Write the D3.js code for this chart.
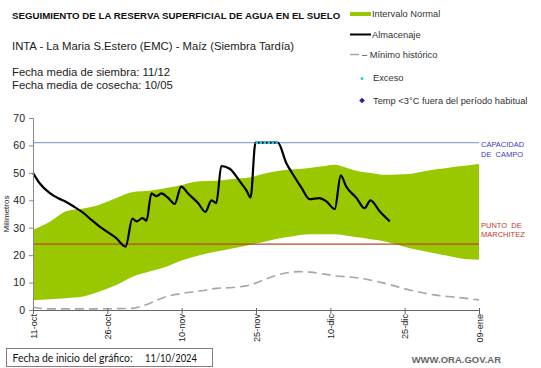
<!DOCTYPE html>
<html>
<head>
<meta charset="utf-8">
<script src="https://cdn.jsdelivr.net/npm/d3@7"></script>
<style>
body{margin:0;background:#fff;}
svg{display:block;font-family:"Liberation Sans",Arial,sans-serif;}
</style>
</head>
<body>
<script>
// datos (dia desde 11-oct, mm)
var bandDays  = [0,3.4,6.7,10.1,13.4,16.8,20.2,23.5,26.9,30.3,33.6,37,40.4,43.7,47,49.8,52.8,55.8,58.4,60.9,63.4,65.9,68.5,71,73.5,76,78.5,81,83.6,86.1,88,90];
var bandUpper = [29.2,32.2,36,37,38.4,40.8,43,43.5,44.5,45.7,46.9,47.1,47.8,48.3,49.9,50.8,51.3,51.8,52.4,53,51.8,50.5,49.9,49.3,49.4,49.6,50.4,51.2,51.8,52.4,52.8,53.2];
var bandLower = [3.6,3.9,4.3,4.9,6.7,9.1,12.2,14,15.8,18.2,20,21.3,22.5,23.7,25,26.2,27,27.6,27.6,27.6,27.1,26.4,25.7,25,23.8,22.5,21.6,20.7,19.8,18.9,18.5,18.3];

var minDays = [0,3.4,10,20.2,21.5,23.5,26.9,30.3,33.6,37,40.4,43.7,47,49.8,53.8,55.8,60.9,65.9,71,76,81,86.1,90];
var minVals = [1.0,0.4,0.4,0.6,1.2,2.4,4.9,6.1,6.9,7.9,8.2,9.1,11.3,13,14,13.8,12.5,11.6,9.7,7.3,5.5,4.5,3.7];

var storeDays = [0,1.3,3.4,5,6.7,8.4,10.1,11.7,13.4,15,16.8,18.7,20.05,20.9,22.1,22.9,23.9,24.9,25.9,27.2,28.6,29.9,31.3,33.3,34.8,36,37,38,39.7,41.7,43.1,43.9,44.9,46,47,48,49.4,51.1,52.5,54.2,55.8,57.8,59.2,60.9,62.1,63.2,65.3,66.9,68.1,70,72];
var storeVals = [50,46.3,42.6,40.8,39.4,37.5,35.5,33,30.5,28.5,26.2,23.1,33.3,32.3,33.5,32.6,42.5,41.5,42.5,41,38.7,45,42.5,39,35.8,40,39,52.5,51.5,47,43.5,41,61,61,61,61,61,53.6,49.3,44.5,40.4,40.8,39.6,36.8,49.1,45,40.8,37.1,40,35.9,32.3];

var excessDays = [44.9,46,47,48,49.4];
var excessVals = [61,61,61,61,61];

var fieldCapacity = 61;
var wiltingPoint = 24;

var tickDays = [0,15,30,45,60,75,90];
var tickLabels = ["11-oct","26-oct","10-nov","25-nov","10-dic","25-dic","09-ene"];
var yTicks = [0,10,20,30,40,50,60,70];

var W = 541, H = 368;
var svg = d3.select("body").append("svg").attr("width",W).attr("height",H);

var x = d3.scaleLinear().domain([0,90]).range([33,479]);
var y = d3.scaleLinear().domain([0,70]).range([310,118]);

// banda normal
var area = d3.area()
  .x(function(d,i){return x(bandDays[i]);})
  .y0(function(d,i){return y(bandLower[i]);})
  .y1(function(d,i){return y(bandUpper[i]);})
  .curve(d3.curveMonotoneX);
svg.append("path").datum(bandDays).attr("d",area).attr("fill","#99c800");

// lineas de referencia
svg.append("line").attr("x1",x(0)).attr("x2",x(90))
  .attr("y1",y(fieldCapacity)).attr("y2",y(fieldCapacity))
  .attr("stroke","#8fa8d0").attr("stroke-width",1.2);
svg.append("line").attr("x1",x(0)).attr("x2",x(90))
  .attr("y1",y(wiltingPoint)).attr("y2",y(wiltingPoint))
  .attr("stroke","#b8472e").attr("stroke-width",1.2);

// minimo historico
var minLine = d3.line()
  .x(function(d,i){return x(minDays[i]);})
  .y(function(d,i){return y(minVals[i]);})
  .curve(d3.curveMonotoneX);
svg.append("path").datum(minDays).attr("d",minLine)
  .attr("fill","none").attr("stroke","#a6a6a6").attr("stroke-width",1.6)
  .attr("stroke-dasharray","9,5");

// almacenaje
var storeLine = d3.line()
  .x(function(d,i){return x(storeDays[i]);})
  .y(function(d,i){return y(storeVals[i]);})
  .curve(d3.curveMonotoneX);
svg.append("path").datum(storeDays).attr("d",storeLine)
  .attr("fill","none").attr("stroke","#000").attr("stroke-width",2.2)
  .attr("stroke-linejoin","round");

// exceso
var exLine = d3.line()
  .x(function(d,i){return x(excessDays[i]);})
  .y(function(d,i){return y(excessVals[i]);});
svg.append("path").datum(excessDays).attr("d",exLine)
  .attr("fill","none").attr("stroke","#33c5e8").attr("stroke-width",2.6)
  .attr("stroke-dasharray","2.5,1.5");

// ejes
var yAxis = svg.append("g").attr("transform","translate(33,0)")
  .call(d3.axisLeft(y).tickValues(yTicks).tickSize(4).tickPadding(4));
yAxis.select(".domain").attr("stroke","#888");
yAxis.selectAll(".tick line").attr("stroke","#888");
yAxis.selectAll("text").attr("font-size","10.5px").attr("fill","#222")
  .attr("font-family","Liberation Sans, Arial, sans-serif");

var xAxis = svg.append("g").attr("transform","translate(0,310)")
  .call(d3.axisBottom(x).tickValues(tickDays).tickSize(4).tickSizeOuter(0)
    .tickFormat(function(d,i){return tickLabels[i];}));
xAxis.select(".domain").attr("stroke","#666").attr("stroke-width",1.2);
xAxis.selectAll(".tick line").attr("stroke","#666").attr("y1",-2);
xAxis.selectAll("text").attr("font-size","9.2px").attr("fill","#222")
  .attr("font-family","Liberation Sans, Arial, sans-serif")
  .attr("text-anchor","end").attr("dy","0.35em")
  .attr("transform","rotate(-90)").attr("x",-4).attr("y",0);

svg.append("text").attr("transform","translate(9,214) rotate(-90)")
  .attr("text-anchor","middle").attr("font-size","8px").attr("fill","#222")
  .text("Milímetros");

// etiquetas de lineas
var lab = svg.append("g").attr("font-size","7.5px");
lab.append("text").attr("x",481).attr("y",147).attr("fill","#3d3db8").text("CAPACIDAD");
lab.append("text").attr("x",481).attr("y",157).attr("fill","#3d3db8").attr("xml:space","preserve").text("DE  CAMPO");
lab.append("text").attr("x",481).attr("y",228).attr("fill","#c0392b").attr("xml:space","preserve").text("PUNTO  DE");
lab.append("text").attr("x",481).attr("y",236.5).attr("fill","#c0392b").text("MARCHITEZ");

// titulos
svg.append("text").attr("x",12).attr("y",19).attr("font-size","9.7px").attr("font-weight","bold")
  .attr("fill","#111").text("SEGUIMIENTO DE LA RESERVA SUPERFICIAL DE AGUA EN EL SUELO");
svg.append("text").attr("x",12).attr("y",50).attr("font-size","11.3px").attr("fill","#222")
  .text("INTA - La Maria S.Estero (EMC) - Maíz (Siembra Tardía)");
svg.append("text").attr("x",12).attr("y",76).attr("font-size","11.3px").attr("fill","#222")
  .text("Fecha media de siembra: 11/12");
svg.append("text").attr("x",12).attr("y",89).attr("font-size","11.3px").attr("fill","#222")
  .text("Fecha media de cosecha: 10/05");

// leyenda
var lg = svg.append("g").attr("font-size","9.3px").attr("fill","#333");
lg.append("rect").attr("x",350).attr("y",12).attr("width",21).attr("height",4).attr("fill","#99c800");
lg.append("text").attr("x",372).attr("y",17).text("Intervalo Normal");
lg.append("line").attr("x1",350).attr("x2",371).attr("y1",34.5).attr("y2",34.5)
  .attr("stroke","#000").attr("stroke-width",2);
lg.append("text").attr("x",372).attr("y",38).text("Almacenaje");
lg.append("line").attr("x1",350).attr("x2",359).attr("y1",54.5).attr("y2",54.5)
  .attr("stroke","#a6a6a6").attr("stroke-width",1.5);
lg.append("text").attr("x",362).attr("y",58).text("– Mínimo histórico");
lg.append("circle").attr("cx",362).attr("cy",78.5).attr("r",1.5).attr("fill","#33c5e8");
lg.append("text").attr("x",373).attr("y",81).text("Exceso");
lg.append("rect").attr("x",-2).attr("y",-2).attr("width",4).attr("height",4)
  .attr("transform","translate(362,100.5) rotate(45)").attr("fill","#2222aa");
lg.append("text").attr("x",373).attr("y",104).text("Temp <3°C fuera del período habitual");

// pie
svg.append("rect").attr("x",6.5).attr("y",348.5).attr("width",206).attr("height",18)
  .attr("fill","#fff").attr("stroke","#8a7a7a").attr("stroke-width",1);
svg.append("text").attr("x",12.5).attr("y",361.5).attr("font-size","11px").attr("fill","#111")
  .attr("font-family","Lato, 'Open Sans', sans-serif")
  .attr("textLength",120).attr("lengthAdjust","spacingAndGlyphs")
  .text("Fecha de inicio del gráfico:");
svg.append("text").attr("x",145).attr("y",361.5).attr("font-size","11px").attr("fill","#111")
  .attr("font-family","Lato, 'Open Sans', sans-serif")
  .attr("textLength",52).attr("lengthAdjust","spacingAndGlyphs")
  .text("11/10/2024");
svg.append("text").attr("x",501).attr("y",363).attr("text-anchor","end").attr("font-size","9.5px")
  .attr("font-weight","bold").attr("fill","#666").text("WWW.ORA.GOV.AR");
</script>
</body>
</html>
